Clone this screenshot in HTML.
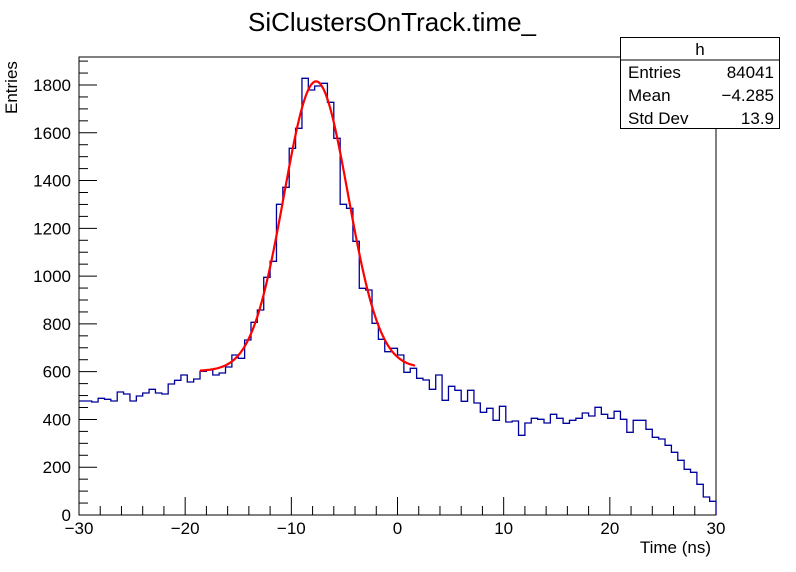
<!DOCTYPE html>
<html><head><meta charset="utf-8"><style>
body{margin:0;background:#fff}
svg{display:block;font-family:"Liberation Sans",sans-serif}
</style></head><body>
<svg id="s" width="796" height="572" xmlns="http://www.w3.org/2000/svg">
<rect width="796" height="572" fill="#fff"/>
<text x="392" y="31" font-size="26" text-anchor="middle">SiClustersOnTrack.time_</text>
<rect x="79" y="57" width="637" height="458" fill="none" stroke="#000" stroke-width="1"/>
<g id="ax" stroke="#000" stroke-width="1"></g>
<g id="lab" font-size="17"></g>
<path id="h" fill="none" stroke="#00009c" stroke-width="1.3"/>
<polyline id="f" fill="none" stroke="#ff0000" stroke-width="2.2"/>
<text x="711" y="553" font-size="17" text-anchor="end">Time (ns)</text>
<text transform="translate(17,114) rotate(-90)" font-size="17" text-anchor="start">Entries</text>
<rect x="620.5" y="37.5" width="159" height="91" fill="#fff" stroke="#000"/>
<line x1="620.5" y1="60" x2="779.5" y2="60" stroke="#000"/>
<g font-size="17">
<text x="700" y="55" text-anchor="middle">h</text>
<text x="628" y="78">Entries</text><text x="774" y="78" text-anchor="end">84041</text>
<text x="628" y="101">Mean</text><text x="774" y="101" text-anchor="end">−4.285</text>
<text x="628" y="124">Std Dev</text><text x="774" y="124" text-anchor="end">13.9</text>
</g>
</svg>
<script>
var ys=[401,401,402,398.3,399.3,401,392,394,401,396,393,389.3,393,394,384,380.3,375,382,379,371.3,370,375,373,367,355,358.3,340,322.3,310,277.3,261.3,204.3,187.3,148.3,128.3,78.3,90,86,83.3,102.3,138.3,204.3,208.3,241.3,288.3,290,323.3,339.3,351.7,348.3,355,372.3,368.3,378.3,380,389.3,375,400.3,386.3,390.3,401.3,390.3,403,412.3,408.3,420.3,406.3,422,421,435.3,423,418.3,419.3,423,414.3,418.3,423.3,420.3,418.3,413,416,407.3,414.3,418.3,411.3,419.3,432.3,420.3,420.3,429.3,437.3,439,445.3,452.3,460.3,469.3,472.3,484.3,497,501.3];
var w=637/100,d="M79,"+ys[0];
for(var i=0;i<100;i++){var x0=79+w*i,x1=x0+w;if(i>0)d+="L"+x0.toFixed(2)+","+ys[i];d+="L"+x1.toFixed(2)+","+ys[i];}
d+="L716,515";
document.getElementById("h").setAttribute("d",d);
var p=[];for(var x=200;x<=415;x+=1){var b=371-(x-200)*3/215;var y=b-288*Math.exp(-Math.pow((x-316)/32,2)/2);p.push(x+","+y.toFixed(1));}
document.getElementById("f").setAttribute("points",p.join(" "));
var ax="",lab="";
for(var v=-30;v<=30;v+=2){var x=79+(v+30)*637/60;var L=(v%10==0)?18:9;ax+='<line x1="'+x+'" y1="515" x2="'+x+'" y2="'+(515-L)+'"/>';}
for(var v=-30;v<=30;v+=10){var x=79+(v+30)*637/60;lab+='<text x="'+x+'" y="534" text-anchor="middle">'+(v<0?'−'+(-v):v)+'</text>';}
var k=430/1800;
for(var v=0;v<=1900;v+=50){var y=515-v*k;if(y<57)break;var L=(v%200==0)?18:9;ax+='<line x1="79" y1="'+y+'" x2="'+(79+L)+'" y2="'+y+'"/>';}
for(var v=0;v<=1800;v+=200){var y=515-v*k;lab+='<text x="71" y="'+(y+6)+'" text-anchor="end">'+v+'</text>';}
document.getElementById("ax").innerHTML=ax;document.getElementById("lab").innerHTML=lab;
</script>
</body></html>
